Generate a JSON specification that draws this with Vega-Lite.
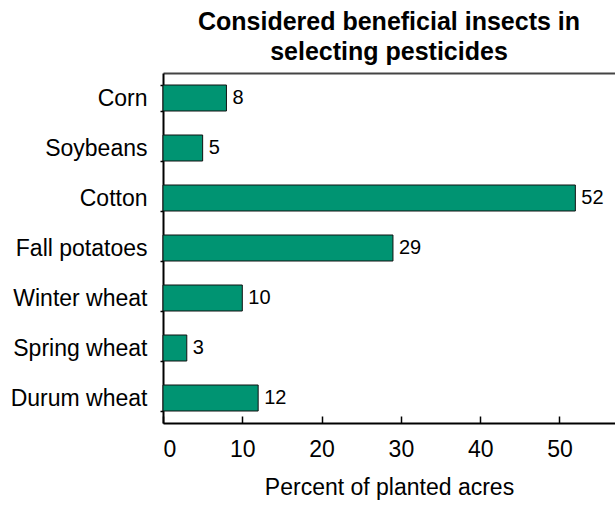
{
  "$schema": "https://vega.github.io/schema/vega-lite/v6.json",
  "width": 452,
  "height": 350,
  "autosize": {"type": "none"},
  "padding": {"left": 163, "top": 73, "right": 0, "bottom": 83},
  "background": "white",
  "config": {
    "view": {"stroke": null},
    "font": "Liberation Sans",
    "axis": {"grid": false, "domainColor": "black", "tickColor": "black", "labelColor": "black", "titleColor": "black", "labelFont": "Liberation Sans", "titleFont": "Liberation Sans"}
  },
  "title": {
    "text": ["Considered beneficial insects in", "selecting pesticides"],
    "fontSize": 25,
    "fontWeight": "bold",
    "font": "Liberation Sans",
    "color": "black",
    "anchor": "middle",
    "frame": "group",
    "lineHeight": 30,
    "offset": -3
  },
  "data": {
    "values": [
      {"crop": "Corn", "pct": 8},
      {"crop": "Soybeans", "pct": 5},
      {"crop": "Cotton", "pct": 52},
      {"crop": "Fall potatoes", "pct": 29},
      {"crop": "Winter wheat", "pct": 10},
      {"crop": "Spring wheat", "pct": 3},
      {"crop": "Durum wheat", "pct": 12}
    ]
  },
  "encoding": {
    "y": {
      "field": "crop",
      "type": "nominal",
      "sort": null,
      "scale": {"paddingInner": 0.48, "paddingOuter": 0.24},
      "axis": {"title": null, "labelFontSize": 23, "labelPadding": 13, "tickSize": 3, "tickBand": "extent", "domainWidth": 2, "tickWidth": 1.5}
    },
    "x": {
      "field": "pct",
      "type": "quantitative",
      "scale": {"domain": [0, 57], "nice": false},
      "axis": {"title": "Percent of planted acres", "titleFontSize": 23, "titleFontWeight": "normal", "titlePadding": 15, "labelFontSize": 23, "values": [0, 10, 20, 30, 40, 50], "tickSize": -7, "labelPadding": 22, "domainWidth": 2, "tickWidth": 1.5}
    }
  },
  "layer": [
    {
      "mark": {"type": "bar", "fill": "#009472", "stroke": "#111111", "strokeWidth": 1}
    },
    {
      "mark": {"type": "text", "align": "left", "baseline": "middle", "dx": 6, "fontSize": 20, "color": "black"},
      "encoding": {
        "text": {"field": "pct", "type": "quantitative"},
        "x": {"field": "pct", "type": "quantitative", "axis": {"orient": "top", "labels": false, "ticks": false, "title": null, "domainColor": "#444", "domainWidth": 2}}
      }
    }
  ],
  "resolve": {"axis": {"x": "independent"}}
}
